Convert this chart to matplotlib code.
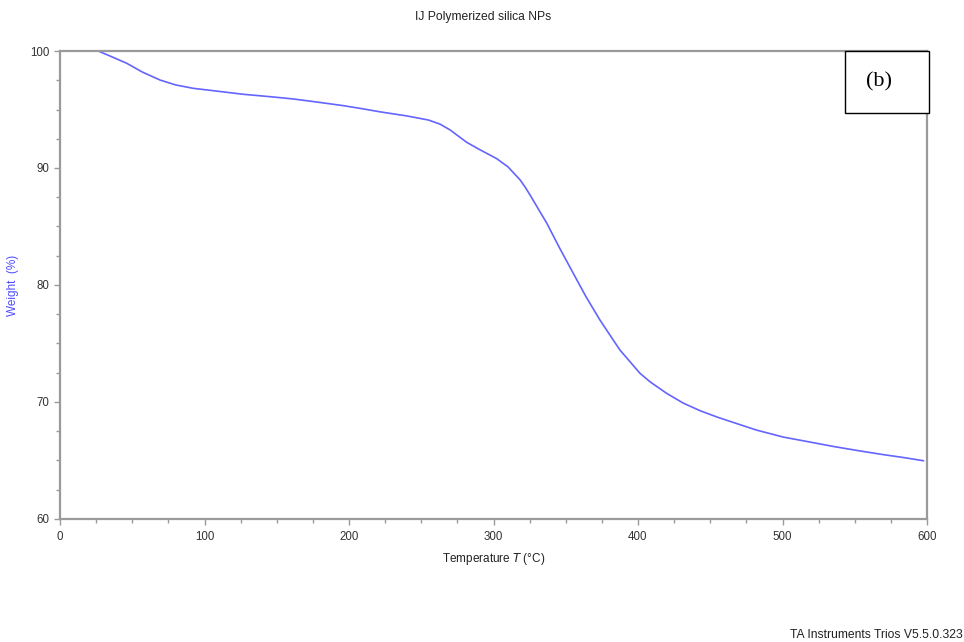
import matplotlib
matplotlib.use("Agg")
import matplotlib.pyplot as plt
from matplotlib.patches import Rectangle
from matplotlib.ticker import MultipleLocator

plt.rcParams['font.family'] = ['Liberation Sans', 'DejaVu Sans']

# Curva TGA: temperatura (°C) y peso (%)
temperatura = [26.5, 35, 46.2, 57, 69.2, 80, 92.2, 110, 126.9, 145, 161.5, 180, 196, 210,
               221.5, 240, 255, 263, 270, 281.4, 290, 302.2, 310, 318.3, 322, 326, 331, 336.8,
               346, 355.2, 364, 373.7, 387.5, 401.4, 408.3, 419.8, 431.4, 443.1, 455, 466,
               482, 500.6, 518, 535.2, 552, 569.8, 584, 597.5]
peso = [100, 99.55, 98.95, 98.2, 97.52, 97.1, 96.81, 96.55, 96.3, 96.1, 95.9, 95.6, 95.33, 95.05,
        94.8, 94.45, 94.1, 93.75, 93.25, 92.2, 91.6, 90.8, 90.1, 89.0, 88.35, 87.55, 86.5, 85.3,
        83.1, 81.0, 79.0, 77.0, 74.44, 72.45, 71.73, 70.74, 69.9, 69.25, 68.7, 68.25,
        67.6, 67.0, 66.6, 66.2, 65.85, 65.5, 65.25, 64.98]

gris = '#9a9a9a'
azul = '#6464ff'

fig = plt.figure(figsize=(9.64, 6.42), dpi=100)
ax = fig.add_axes([60/964, 1-519/642, 867/964, 468/642])
ax.plot(temperatura, peso, color=azul, linewidth=1.2)

ax.set_xlim(0, 600)
ax.set_ylim(60, 100)
ax.xaxis.set_major_locator(MultipleLocator(100))
ax.xaxis.set_minor_locator(MultipleLocator(25))
ax.yaxis.set_major_locator(MultipleLocator(10))
ax.yaxis.set_minor_locator(MultipleLocator(2.5))

for s in ax.spines.values():
    s.set_color(gris)
    s.set_linewidth(1.6)
ax.tick_params(which='both', direction='out', color=gris, labelsize=8.3, labelcolor='#333333')
ax.tick_params(which='major', length=4, width=1)
ax.tick_params(which='minor', length=3, width=1)
ax.tick_params(axis='x', pad=5)

ax.set_xlabel('Temperature $\\mathit{T}$ (°C)', fontsize=8.5, color='#222222')
ax.xaxis.set_label_coords(0.5, -(551-519)/468)
ax.set_ylabel('Weight  (%)', fontsize=8.5, color='#4c4cff')
ax.yaxis.set_label_coords(-(60-19)/867, 0.5)

fig.text(483/964, 1-17/642, 'IJ Polymerized silica NPs', ha='center', va='center',
         fontsize=8.7, color='#222222')
fig.text(790/964, 1-635/642, 'TA Instruments Trios V5.5.0.323', ha='left', va='center',
         fontsize=8.7, color='#222222')

# Recuadro con la etiqueta del panel
caja = Rectangle((845/964, 1-113/642), 84/964, 62/642, transform=fig.transFigure,
                 facecolor='white', edgecolor='black', linewidth=1.0, zorder=5)
fig.add_artist(caja)
fig.text(879/964, 1-82/642, '(b)', ha='center', va='center', fontsize=16,
         family='Liberation Serif', color='black', zorder=6)

fig.savefig('out.png', dpi=100)
